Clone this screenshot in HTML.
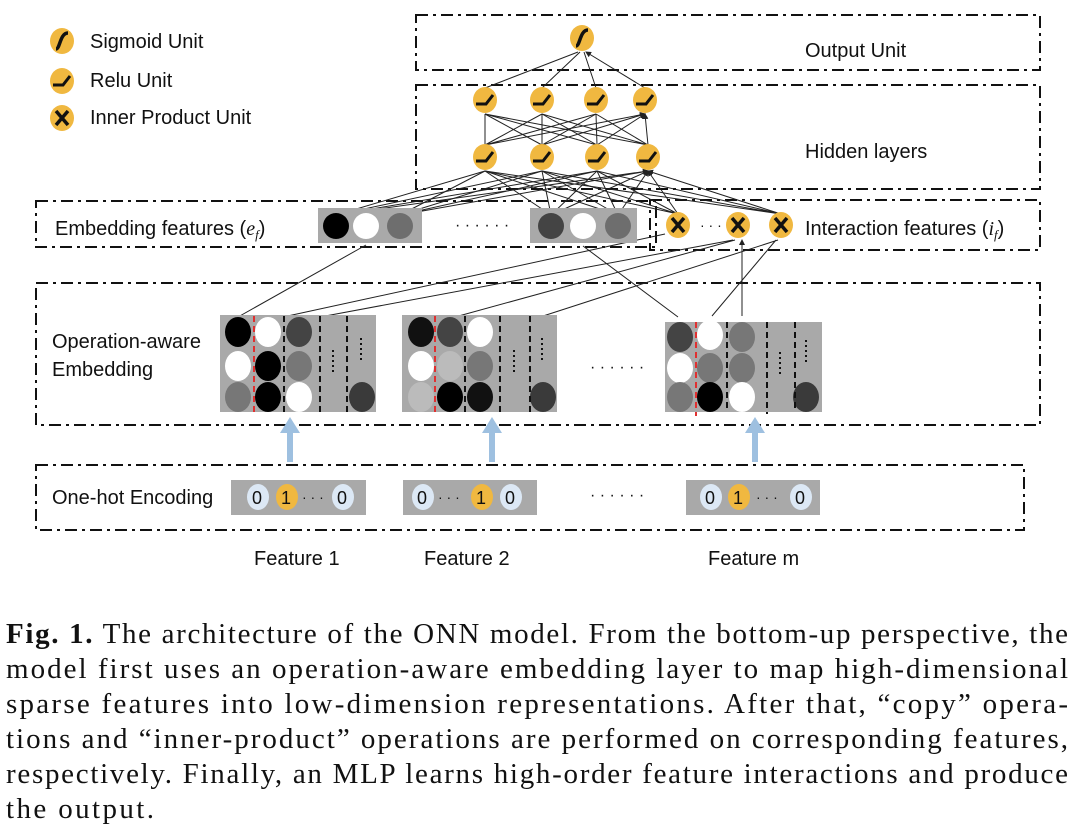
<!DOCTYPE html>
<html><head><meta charset="utf-8"><style>
html,body{margin:0;padding:0;background:#fff;}
svg{display:block;}
.s{font-family:"Liberation Sans","DejaVu Sans",sans-serif;fill:#111;}
.c{font-family:"Liberation Serif",serif;fill:#111;font-size:29px;}
</style></head><body>
<svg width="1080" height="839" viewBox="0 0 1080 839" xmlns="http://www.w3.org/2000/svg">
<defs>
<marker id="ah" markerWidth="6" markerHeight="6" refX="5" refY="3" orient="auto"><path d="M0,0 L6,3 L0,6 z" fill="#222"/></marker>
<g id="relu"><ellipse cx="0" cy="0" rx="12" ry="13" fill="#f0b840"/><path d="M-9,4 L1,4 L8,-5" stroke="#111" stroke-width="3" fill="none"/></g>
<g id="sig"><ellipse cx="0" cy="0" rx="12" ry="13" fill="#f0b840"/><path d="M-6,8 C-2,8 -2,-8 6,-8" stroke="#111" stroke-width="3.5" fill="none"/></g>
<g id="x"><ellipse cx="0" cy="0" rx="12" ry="13" fill="#f0b840"/><path d="M-6,-7 L6,7 M6,-7 L-6,7" stroke="#111" stroke-width="3.5"/></g>
</defs>
<g fill="none" stroke="#111" stroke-width="2" stroke-dasharray="12 5 3 5">
<rect x="416" y="15" width="624" height="55"/>
<rect x="416" y="85" width="624" height="104"/>
<rect x="36" y="201" width="620" height="46"/>
<rect x="650" y="200" width="390" height="50"/>
<rect x="36" y="283" width="1004" height="142"/>
<rect x="36" y="465" width="988" height="65"/>
</g>
<use href="#sig" x="62" y="41"/><use href="#relu" x="62" y="81"/><use href="#x" x="62" y="118"/>
<text class="s" x="90" y="48" font-size="20">Sigmoid Unit</text>
<text class="s" x="90" y="87" font-size="20">Relu Unit</text>
<text class="s" x="90" y="124" font-size="20">Inner Product Unit</text>
<text class="s" x="805" y="57" font-size="20">Output Unit</text>
<text class="s" x="805" y="158" font-size="20">Hidden layers</text>
<text class="s" x="55" y="235" font-size="20">Embedding features (<tspan font-family="Liberation Serif" font-style="italic">e<tspan font-size="13" dy="4">f</tspan></tspan><tspan dy="-4">)</tspan></text>
<text class="s" x="805" y="235" font-size="20">Interaction features (<tspan font-family="Liberation Serif" font-style="italic">i<tspan font-size="13" dy="4">f</tspan></tspan><tspan dy="-4">)</tspan></text>
<text class="s" x="52" y="348" font-size="20">Operation-aware</text>
<text class="s" x="52" y="376" font-size="20">Embedding</text>
<text class="s" x="52" y="504" font-size="20">One-hot Encoding</text>
<text class="s" x="254" y="565" font-size="20">Feature 1</text>
<text class="s" x="424" y="565" font-size="20">Feature 2</text>
<text class="s" x="708" y="565" font-size="20">Feature m</text>
<g stroke="#222" stroke-width="1" marker-end="url(#ah)">
<path d="M485,145 L485,114 M485,145 L542,114 M485,145 L596,114 M485,145 L645,114"/>
<path d="M542,145 L485,114 M542,145 L542,114 M542,145 L596,114 M542,145 L645,114"/>
<path d="M597,145 L485,114 M597,145 L542,114 M597,145 L596,114 M597,145 L645,114"/>
<path d="M648,145 L485,114 M648,145 L542,114 M648,145 L596,114 M648,145 L645,114"/>
<path d="M485,88 L578,52 M542,88 L580,52 M596,88 L584,52 M645,88 L586,52"/>
<path d="M336,215 L485,171 M336,215 L542,171 M336,215 L597,171 M336,215 L648,171"/>
<path d="M400,215 L485,171 M400,215 L542,171 M400,215 L597,171 M400,215 L648,171"/>
<path d="M551,215 L485,171 M551,215 L542,171 M551,215 L597,171 M551,215 L648,171"/>
<path d="M618,215 L485,171 M618,215 L542,171 M618,215 L597,171 M618,215 L648,171"/>
<path d="M678,214 L485,171 M678,214 L542,171 M678,214 L597,171 M678,214 L648,171"/>
<path d="M781,214 L485,171 M781,214 L542,171 M781,214 L597,171 M781,214 L648,171"/>
<path d="M238,317 L366,245 M283,317 L665,234 M320,317 L733,240 M455,317 L735,240 M540,317 L778,240 M678,317 L583,246 M712,316 L776,240 M742,316 L742,240"/>
</g>
<rect x="318" y="208" width="104" height="35" fill="#a9a9a9"/>
<circle cx="336" cy="226" r="13" fill="#000"/><circle cx="366" cy="226" r="13" fill="#fff"/><circle cx="400" cy="226" r="13" fill="#6e6e6e"/>
<rect x="530" y="208" width="107" height="35" fill="#a9a9a9"/>
<circle cx="551" cy="226" r="13" fill="#444"/><circle cx="583" cy="226" r="13" fill="#fff"/><circle cx="618" cy="226" r="13" fill="#6e6e6e"/>
<text class="s" x="455" y="230" font-size="16">· · · · · ·</text>
<use href="#x" x="678" y="225"/><use href="#x" x="738" y="225"/><use href="#x" x="781" y="225"/>
<text class="s" x="700" y="230" font-size="14">· · ·</text>
<use href="#sig" x="582" y="38"/>
<use href="#relu" x="485" y="100"/><use href="#relu" x="542" y="100"/><use href="#relu" x="596" y="100"/><use href="#relu" x="645" y="100"/>
<use href="#relu" x="485" y="157"/><use href="#relu" x="542" y="157"/><use href="#relu" x="597" y="157"/><use href="#relu" x="648" y="157"/>
<g>
<rect x="220" y="315" width="156" height="97" fill="#a9a9a9"/>
<ellipse cx="238" cy="332" rx="13" ry="15" fill="#000"/><ellipse cx="268" cy="332" rx="13" ry="15" fill="#fff"/><ellipse cx="299" cy="332" rx="13" ry="15" fill="#444"/>
<ellipse cx="238" cy="366" rx="13" ry="15" fill="#fff"/><ellipse cx="268" cy="366" rx="13" ry="15" fill="#000"/><ellipse cx="299" cy="366" rx="13" ry="15" fill="#777"/>
<ellipse cx="238" cy="397" rx="13" ry="15" fill="#777"/><ellipse cx="268" cy="397" rx="13" ry="15" fill="#000"/><ellipse cx="299" cy="397" rx="13" ry="15" fill="#fff"/>
<ellipse cx="362" cy="397" rx="13" ry="15" fill="#3a3a3a"/>
<path d="M254,316 V412" stroke="#e03030" stroke-width="2" stroke-dasharray="6 4"/>
<path d="M284,316 V412 M320,316 V412 M347,316 V412" stroke="#111" stroke-width="2" stroke-dasharray="6 4"/>
<path d="M333,350 V375 M361,338 V362" stroke="#111" stroke-width="2" stroke-dasharray="2 3"/>
</g>
<g>
<rect x="402" y="315" width="155" height="97" fill="#a9a9a9"/>
<ellipse cx="421" cy="332" rx="13" ry="15" fill="#111"/><ellipse cx="450" cy="332" rx="13" ry="15" fill="#444"/><ellipse cx="480" cy="332" rx="13" ry="15" fill="#fff"/>
<ellipse cx="421" cy="366" rx="13" ry="15" fill="#fff"/><ellipse cx="450" cy="366" rx="13" ry="15" fill="#bbb"/><ellipse cx="480" cy="366" rx="13" ry="15" fill="#777"/>
<ellipse cx="421" cy="397" rx="13" ry="15" fill="#bbb"/><ellipse cx="450" cy="397" rx="13" ry="15" fill="#000"/><ellipse cx="480" cy="397" rx="13" ry="15" fill="#111"/>
<ellipse cx="543" cy="397" rx="13" ry="15" fill="#3a3a3a"/>
<path d="M435,316 V414" stroke="#e03030" stroke-width="2" stroke-dasharray="6 4"/>
<path d="M465,316 V412 M500,316 V412 M530,316 V412" stroke="#111" stroke-width="2" stroke-dasharray="6 4"/>
<path d="M514,350 V375 M542,338 V362" stroke="#111" stroke-width="2" stroke-dasharray="2 3"/>
</g>
<g>
<rect x="665" y="322" width="157" height="90" fill="#a9a9a9"/>
<ellipse cx="680" cy="337" rx="13" ry="15" fill="#444"/><ellipse cx="710" cy="335" rx="13" ry="15" fill="#fff"/><ellipse cx="742" cy="337" rx="13" ry="15" fill="#777"/>
<ellipse cx="680" cy="368" rx="13" ry="15" fill="#fff"/><ellipse cx="710" cy="368" rx="13" ry="15" fill="#777"/><ellipse cx="742" cy="368" rx="13" ry="15" fill="#777"/>
<ellipse cx="680" cy="397" rx="13" ry="15" fill="#777"/><ellipse cx="710" cy="397" rx="13" ry="15" fill="#000"/><ellipse cx="742" cy="397" rx="13" ry="15" fill="#fff"/>
<ellipse cx="806" cy="397" rx="13" ry="15" fill="#3a3a3a"/>
<path d="M696,322 V416" stroke="#e03030" stroke-width="2" stroke-dasharray="6 4"/>
<path d="M727,322 V412 M767,322 V414 M795,322 V412" stroke="#111" stroke-width="2" stroke-dasharray="6 4"/>
<path d="M780,352 V377 M806,340 V364" stroke="#111" stroke-width="2" stroke-dasharray="2 3"/>
</g>
<text class="s" x="590" y="372" font-size="16">· · · · · ·</text>
<g fill="#9ec0e0">
<rect x="287" y="432" width="6" height="30"/><path d="M280,433 L290,417 L300,433 z"/>
<rect x="489" y="432" width="6" height="30"/><path d="M482,433 L492,417 L502,433 z"/>
<rect x="752" y="432" width="6" height="30"/><path d="M745,433 L755,417 L765,433 z"/>
</g>
<g font-size="18" class="s">
<rect x="231" y="480" width="135" height="35" fill="#a9a9a9"/>
<ellipse cx="258" cy="497" rx="11" ry="13" fill="#dce8f5"/><ellipse cx="287" cy="497" rx="11" ry="13" fill="#f0b840"/><ellipse cx="343" cy="497" rx="11" ry="13" fill="#dce8f5"/>
<text x="252" y="504">0</text><text x="281" y="504">1</text><text x="337" y="504">0</text><text x="302" y="502" font-size="14">· · ·</text>
<rect x="403" y="480" width="134" height="35" fill="#a9a9a9"/>
<ellipse cx="423" cy="497" rx="11" ry="13" fill="#dce8f5"/><ellipse cx="482" cy="497" rx="11" ry="13" fill="#f0b840"/><ellipse cx="511" cy="497" rx="11" ry="13" fill="#dce8f5"/>
<text x="417" y="504">0</text><text x="476" y="504">1</text><text x="505" y="504">0</text><text x="438" y="502" font-size="14">· · ·</text>
<rect x="686" y="480" width="134" height="35" fill="#a9a9a9"/>
<ellipse cx="711" cy="497" rx="11" ry="13" fill="#dce8f5"/><ellipse cx="739" cy="497" rx="11" ry="13" fill="#f0b840"/><ellipse cx="801" cy="497" rx="11" ry="13" fill="#dce8f5"/>
<text x="705" y="504">0</text><text x="733" y="504">1</text><text x="795" y="504">0</text><text x="756" y="502" font-size="14">· · ·</text>
<text x="590" y="500" font-size="16">· · · · · ·</text>
</g>
<text class="c" x="6" y="643" textLength="1062" lengthAdjust="spacing"><tspan font-weight="bold">Fig. 1.</tspan>  The architecture of the ONN model. From the bottom-up perspective, the</text>
<text class="c" x="6" y="678" textLength="1062" lengthAdjust="spacing">model first uses an operation-aware embedding layer to map high-dimensional</text>
<text class="c" x="6" y="713" textLength="1062" lengthAdjust="spacing">sparse features into low-dimension representations. After that, “copy” opera-</text>
<text class="c" x="6" y="748" textLength="1062" lengthAdjust="spacing">tions and “inner-product” operations are performed on corresponding features,</text>
<text class="c" x="6" y="783" textLength="1062" lengthAdjust="spacing">respectively. Finally, an MLP learns high-order feature interactions and produce</text>
<text class="c" x="6" y="818" textLength="148" lengthAdjust="spacing">the output.</text>
</svg>
</body></html>
